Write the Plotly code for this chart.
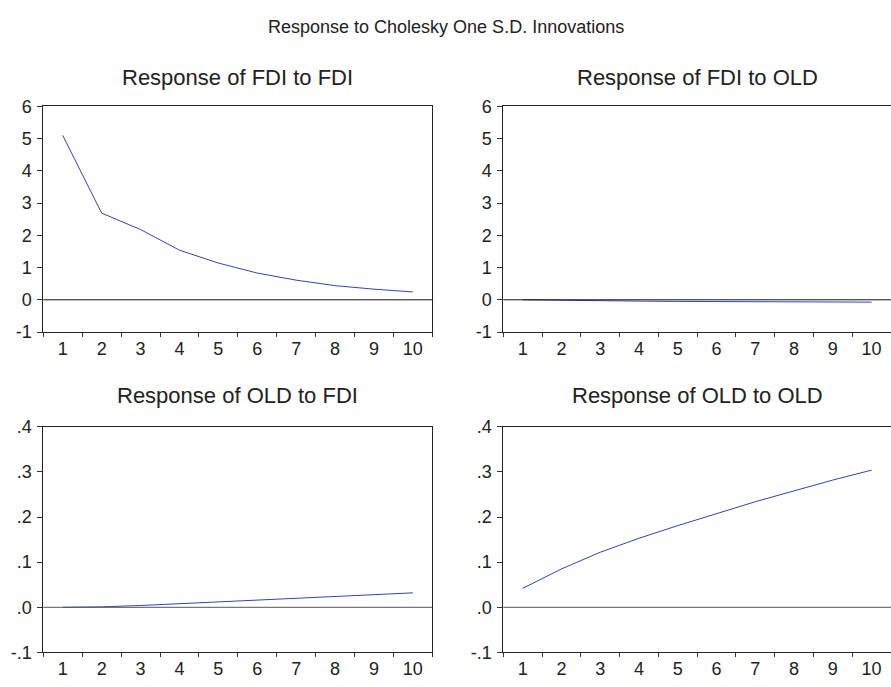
import plotly.graph_objects as go

# Impulse-response horizons (periods 1..10)
periods = ["1", "2", "3", "4", "5", "6", "7", "8", "9", "10"]

# Responses to Cholesky one S.D. innovations
fdi_to_fdi = [5.10, 2.69, 2.18, 1.54, 1.14, 0.83, 0.61, 0.44, 0.33, 0.245]
fdi_to_old = [0.0, -0.02, -0.03, -0.04, -0.05, -0.055, -0.06, -0.065, -0.07, -0.072]
old_to_fdi = [0.0, 0.001, 0.004, 0.008, 0.012, 0.016, 0.020, 0.024, 0.028, 0.032]
old_to_old = [0.042, 0.085, 0.122, 0.153, 0.181, 0.208, 0.234, 0.258, 0.282, 0.304]

panel_titles = ["Response of FDI to FDI", "Response of FDI to OLD",
                "Response of OLD to FDI", "Response of OLD to OLD"]
main_title = "Response to Cholesky One S.D. Innovations"

fdi_ticks = [-1, 0, 1, 2, 3, 4, 5, 6]
fdi_ticktext = ["-1", "0", "1", "2", "3", "4", "5", "6"]
old_ticks = [-0.1, 0.0, 0.1, 0.2, 0.3, 0.4]
old_ticktext = ["-.1", ".0", ".1", ".2", ".3", ".4"]

W, H = 891, 687
LINE = "#3344aa"
FONT = "Liberation Sans, Arial, sans-serif"
TXT = "#222222"
TICK_SIZE = 18
TITLE_SIZE = 22
MAIN_SIZE = 18

# panel boxes in pixels: (left, right, top, bottom)
boxes = [
    (43.3, 432.3, 99.3, 331.7),
    (503.3, 891.0, 99.3, 331.7),
    (43.3, 432.3, 429.3, 661.7),
    (503.3, 891.0, 429.3, 661.7),
]
title_gap = [30, 30, 32, 32]
zero_color = ["#111111", "#111111", "#555555", "#555555"]
series = [fdi_to_fdi, fdi_to_old, old_to_fdi, old_to_old]
yspecs = [
    ([-1, 6], fdi_ticks, fdi_ticktext),
    ([-1, 6], fdi_ticks, fdi_ticktext),
    ([-0.1, 0.4], old_ticks, old_ticktext),
    ([-0.1, 0.4], old_ticks, old_ticktext),
]

fig = go.Figure()
layout = dict(
    width=W, height=H,
    margin=dict(l=0, r=0, t=0, b=0),
    paper_bgcolor="white", plot_bgcolor="white",
    showlegend=False,
    font=dict(family=FONT, color=TXT, size=TICK_SIZE),
)
annotations = [dict(text=main_title, x=446 / W, y=1 - 17 / H, xref="paper", yref="paper",
                    showarrow=False, xanchor="center", yanchor="middle",
                    font=dict(size=MAIN_SIZE, family=FONT, color=TXT))]
shapes = []

for i, ((l, r, t, b), ys, (yr, tv, tt)) in enumerate(zip(boxes, series, yspecs)):
    n = "" if i == 0 else str(i + 1)
    xa, ya = "x" + n, "y" + n
    right_edge = r >= W
    fig.add_trace(go.Scatter(x=periods, y=ys, mode="lines", xaxis=xa, yaxis=ya,
                             line=dict(color=LINE, width=1), hoverinfo="skip"))
    layout["xaxis" + n] = dict(
        domain=[l / W, min(r / W, 1.0)], anchor=ya, type="category",
        categoryorder="array", categoryarray=periods,
        range=[-0.5, 9.5], tickson="boundaries", ticks="outside", ticklen=4,
        tickcolor="#333", tickwidth=1, showline=True, linecolor="#222", linewidth=1,
        mirror=True, showgrid=False, zeroline=False,
        tickfont=dict(size=TICK_SIZE, family=FONT, color=TXT),
    )
    layout["yaxis" + n] = dict(
        domain=[1 - b / H, 1 - t / H], anchor=xa, range=yr, tickvals=tv, ticktext=tt,
        ticks="outside", ticklen=5, tickcolor="#333", tickwidth=1,
        ticklabelstandoff=2,
        showline=True, linecolor="#222", linewidth=1, mirror=not right_edge,
        showgrid=False, zeroline=False,
        tickfont=dict(size=TICK_SIZE, family=FONT, color=TXT),
    )
    # horizontal reference line at zero
    shapes.append(dict(type="line", xref=xa + " domain", yref=ya, x0=0, x1=1, y0=0, y1=0,
                       line=dict(color=zero_color[i], width=1)))
    annotations.append(dict(text=panel_titles[i], x=(l + r) / 2 / W,
                            y=1 - (t - title_gap[i]) / H,
                            xref="paper", yref="paper", showarrow=False,
                            xanchor="center", yanchor="middle",
                            font=dict(size=TITLE_SIZE, family=FONT, color=TXT)))

layout["annotations"] = annotations
layout["shapes"] = shapes
fig.update_layout(**layout)
fig.write_html("out.html")
